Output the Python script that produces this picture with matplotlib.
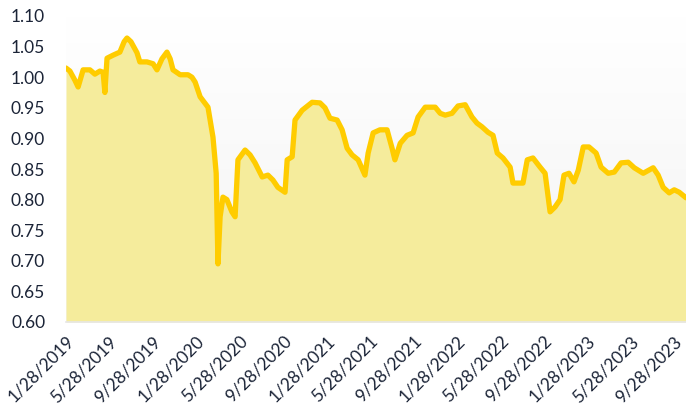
import numpy as np
import pandas as pd
import matplotlib
matplotlib.use("Agg")
import matplotlib.pyplot as plt
from matplotlib.colors import LinearSegmentedColormap

# values, roughly every two weeks
dates = [
    "2019-01-28", "2019-02-08", "2019-02-22", "2019-03-03", "2019-03-17", "2019-04-05",
    "2019-04-19", "2019-05-03", "2019-05-12", "2019-05-17", "2019-05-23", "2019-06-09",
    "2019-06-28", "2019-07-10", "2019-07-18", "2019-07-29", "2019-08-15", "2019-08-23",
    "2019-09-12", "2019-09-29", "2019-10-10", "2019-10-24", "2019-11-07", "2019-11-16",
    "2019-11-24", "2019-12-14", "2020-01-05", "2020-01-16", "2020-01-25", "2020-02-08",
    "2020-03-01", "2020-03-15", "2020-03-24", "2020-03-29", "2020-04-04", "2020-04-12",
    "2020-04-23", "2020-05-07", "2020-05-16", "2020-05-24", "2020-06-13", "2020-06-27",
    "2020-07-11", "2020-07-31", "2020-08-16", "2020-08-30", "2020-09-13", "2020-10-03",
    "2020-10-09", "2020-10-23", "2020-10-31", "2020-11-20", "2020-12-18", "2021-01-09",
    "2021-01-23", "2021-02-06", "2021-02-26", "2021-03-12", "2021-03-26", "2021-04-09",
    "2021-04-26", "2021-05-15", "2021-05-24", "2021-06-07", "2021-06-26", "2021-07-16",
    "2021-07-30", "2021-08-07", "2021-08-22", "2021-09-10", "2021-09-27", "2021-10-11",
    "2021-10-31", "2021-11-28", "2021-12-12", "2021-12-26", "2022-01-14", "2022-01-31",
    "2022-02-20", "2022-03-11", "2022-03-25", "2022-04-08", "2022-04-25", "2022-05-09",
    "2022-05-21", "2022-06-06", "2022-06-26", "2022-07-04", "2022-07-18", "2022-08-01",
    "2022-08-13", "2022-08-29", "2022-09-18", "2022-10-02", "2022-10-16", "2022-10-30",
    "2022-11-13", "2022-11-24", "2022-12-08", "2022-12-22", "2023-01-03", "2023-01-17",
    "2023-02-02", "2023-02-22", "2023-03-08", "2023-03-28", "2023-04-14", "2023-05-03",
    "2023-05-23", "2023-06-09", "2023-07-04", "2023-08-01", "2023-08-15", "2023-08-29",
    "2023-09-15", "2023-09-29", "2023-10-13", "2023-11-01",
]
values = [
    1.015, 1.010, 0.995, 0.984, 1.012, 1.012,
    1.005, 1.010, 1.008, 0.975, 1.031, 1.036,
    1.041, 1.058, 1.064, 1.058, 1.040, 1.025,
    1.025, 1.022, 1.012, 1.030, 1.041, 1.030,
    1.012, 1.004, 1.004, 1.000, 0.992, 0.968,
    0.951, 0.902, 0.843, 0.695, 0.772, 0.804,
    0.800, 0.780, 0.772, 0.865, 0.881, 0.873,
    0.860, 0.837, 0.840, 0.832, 0.820, 0.812,
    0.865, 0.870, 0.930, 0.946, 0.959, 0.958,
    0.950, 0.933, 0.930, 0.914, 0.884, 0.873,
    0.865, 0.840, 0.876, 0.909, 0.914, 0.914,
    0.884, 0.865, 0.892, 0.905, 0.909, 0.935,
    0.951, 0.951, 0.941, 0.938, 0.941, 0.953,
    0.955, 0.935, 0.925, 0.919, 0.910, 0.905,
    0.876, 0.868, 0.853, 0.827, 0.827, 0.827,
    0.865, 0.868, 0.853, 0.843, 0.780, 0.788,
    0.800, 0.840, 0.843, 0.829, 0.848, 0.886,
    0.886, 0.876, 0.853, 0.843, 0.845, 0.860,
    0.861, 0.852, 0.843, 0.852, 0.840, 0.820,
    0.811, 0.816, 0.812, 0.803,
]
tick_dates = [
    "2019-01-28", "2019-05-28", "2019-09-28", "2020-01-28", "2020-05-28",
    "2020-09-28", "2021-01-28", "2021-05-28", "2021-09-28", "2022-01-28",
    "2022-05-28", "2022-09-28", "2023-01-28", "2023-05-28", "2023-09-28",
]
y_ticks = [0.60, 0.65, 0.70, 0.75, 0.80, 0.85, 0.90, 0.95, 1.00, 1.05, 1.10]

x = pd.to_datetime(dates)
ticks = pd.to_datetime(tick_dates)

plt.rcParams['font.family'] = ['Lato', 'DejaVu Sans']
text_color = '#1b2437'

fig = plt.figure(figsize=(6.86, 4.08), dpi=100)
ax = fig.add_axes([66 / 686, 1 - 322 / 408, 620 / 686, 306 / 408])

# faint vertical gradient behind the plot
grad = LinearSegmentedColormap.from_list('bg', ['#ffffff', '#f3f3f3'])
ax.imshow(np.linspace(0, 1, 200).reshape(-1, 1), cmap=grad, aspect='auto',
          extent=[0, 1, 0, 1], transform=ax.transAxes, zorder=0)

ax.fill_between(x, 0.60, values, color='#f5ec9c', lw=0, zorder=1)
ax.plot(x, values, color='#ffcc00', lw=3.8, solid_joinstyle='round',
        solid_capstyle='round', zorder=2)

ax.set_xlim(pd.Timestamp("2019-01-28"), pd.Timestamp("2023-11-01"))
ax.set_ylim(0.60, 1.10)
ax.set_yticks(y_ticks)
ax.set_yticklabels([f"{v:.2f}" for v in y_ticks])
ax.set_xticks(ticks)
ax.set_xticklabels([f"{d.month}/{d.day}/{d.year}" for d in ticks],
                   rotation=45, ha='right', rotation_mode='anchor')

ax.tick_params(axis='both', length=0, labelsize=12.5, colors=text_color)
ax.tick_params(axis='y', pad=15)
ax.tick_params(axis='x', pad=8)
for side in ['top', 'right', 'left']:
    ax.spines[side].set_visible(False)
ax.spines['bottom'].set_color('#e6e6e6')
ax.spines['bottom'].set_linewidth(1.2)

plt.savefig('out.png', dpi=100)
